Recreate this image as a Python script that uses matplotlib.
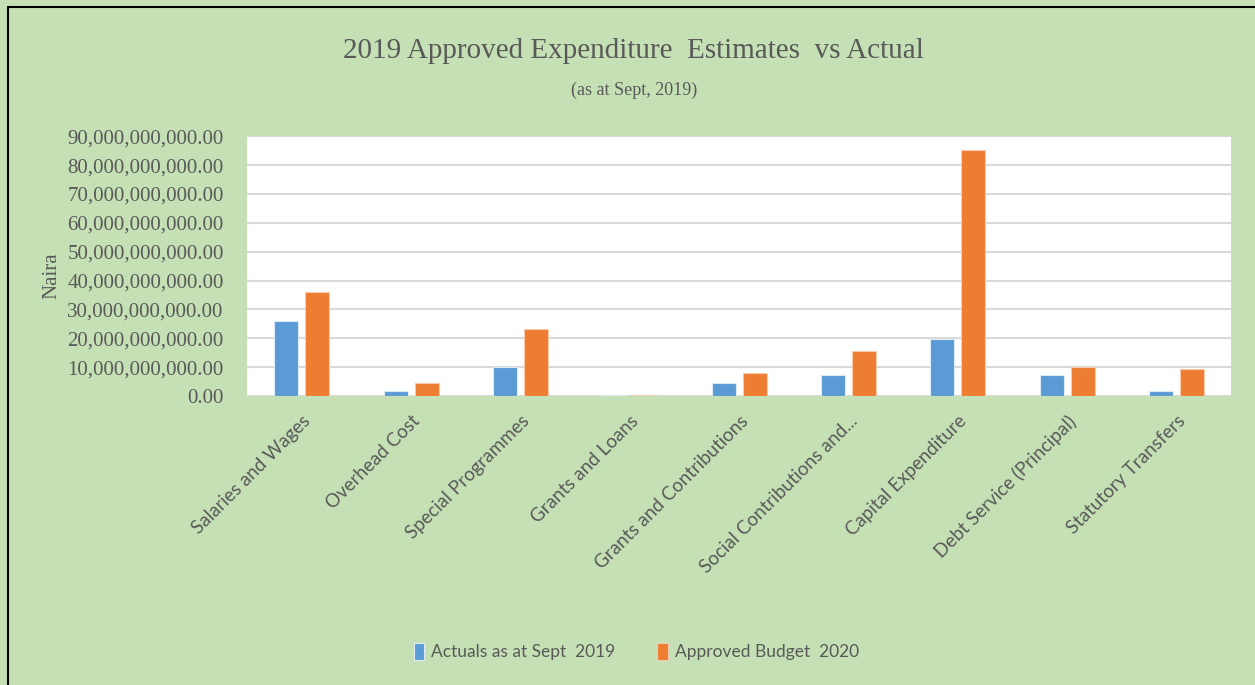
import matplotlib.pyplot as plt
import numpy as np
from matplotlib.ticker import FuncFormatter
from matplotlib.patches import Rectangle

# Data (Naira)
categories = ['Salaries and Wages', 'Overhead Cost', 'Special Programmes', 'Grants and Loans',
              'Grants and Contributions', 'Social Contributions and...', 'Capital Expenditure',
              'Debt Service (Principal)', 'Statutory Transfers']
actuals = [26.1e9, 1.7e9, 10.1e9, 0.3e9, 4.4e9, 7.2e9, 19.8e9, 7.2e9, 1.6e9]
budget = [35.9e9, 4.5e9, 23.3e9, 0.3e9, 7.9e9, 15.6e9, 85.1e9, 10.0e9, 9.3e9]
series_names = ['Actuals as at Sept  2019', 'Approved Budget  2020']

bg = '#C5E0B4'
txt = '#595959'

fig = plt.figure(figsize=(12.55, 6.85), dpi=100, facecolor=bg)
# outer border
fig.patches.append(Rectangle((0.0065, -0.01), 1.2, 1.0 - 0.0102 + 0.01, transform=fig.transFigure,
                             fill=False, edgecolor='black', linewidth=1.5))

ax = fig.add_axes([0.197, 0.422, 0.784, 0.379])
ax.set_facecolor('white')

x = np.arange(len(categories))
w = 0.22
ax.bar(x - 0.142, actuals, w, color='#5B9BD5', edgecolor='#DDEBF7', linewidth=0.8, label=series_names[0], zorder=3)
ax.bar(x + 0.142, budget, w, color='#ED7D31', edgecolor='#F8CBAD', linewidth=0.8, label=series_names[1], zorder=3)

ax.set_xlim(-0.5, len(categories) - 0.5)
ax.set_ylim(0, 90e9)
ax.set_yticks(np.arange(0, 90e9 + 1, 10e9))
ax.yaxis.set_major_formatter(FuncFormatter(lambda v, p: f'{v:,.2f}'))
ax.grid(axis='y', color='#D9D9D9', linewidth=1.5, zorder=0)
for s in ax.spines.values():
    s.set_visible(False)
ax.tick_params(axis='both', length=0)
ax.tick_params(axis='y', pad=17)

for lab in ax.get_yticklabels():
    lab.set_fontfamily('Liberation Serif')
    lab.set_fontsize(15)
    lab.set_color(txt)

ax.set_xticks(x)
ax.set_xticklabels(categories, rotation=45, ha='right', rotation_mode='anchor',
                   fontfamily='Lato', fontsize=13.5, color=txt)
ax.tick_params(axis='x', pad=12)

fig.text(0.041, 0.598, 'Naira', rotation=90, ha='center', va='center',
         fontfamily='Liberation Serif', fontsize=15, color=txt)

fig.text(0.505, 0.925, '2019 Approved Expenditure  Estimates  vs Actual', ha='center', va='center',
         fontfamily='Liberation Serif', fontsize=21, color=txt)
fig.text(0.505, 0.868, '(as at Sept, 2019)', ha='center', va='center',
         fontfamily='Liberation Serif', fontsize=13, color=txt)

leg = fig.legend(loc='center', bbox_to_anchor=(0.507, 0.049), ncol=2, frameon=False,
                 prop={'family': 'Lato', 'size': 12.5}, handlelength=0.6, handleheight=1.2,
                 handletextpad=0.4, columnspacing=2.4)
for t in leg.get_texts():
    t.set_color(txt)

plt.savefig('out.png', dpi=100, facecolor=bg)
